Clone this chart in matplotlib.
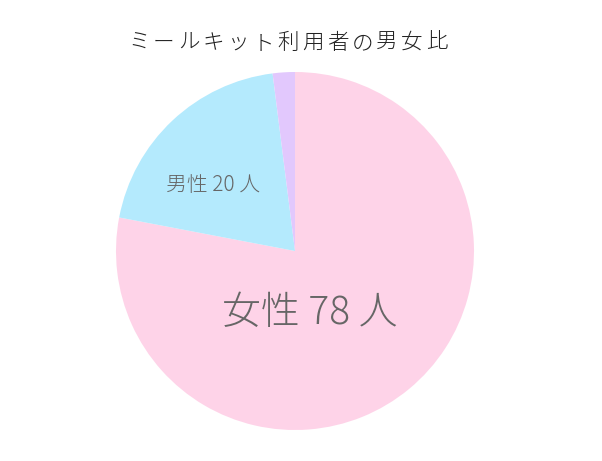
import matplotlib.pyplot as plt

plt.rcParams['font.family'] = ['Noto Sans CJK JP', 'DejaVu Sans']

# data
labels = ['女性 78 人', '男性 20 人', 'その他']
values = [78, 20, 2]
colors = ['#fed3e8', '#b4eafd', '#e2c8fd']
title = 'ミールキット利用者の男女比'

fig = plt.figure(figsize=(6.02, 4.61), dpi=100)
ax = fig.add_axes([116 / 602, 31 / 461, 358 / 602, 358 / 461])

wedges, _ = ax.pie(values, colors=colors, startangle=90, counterclock=False,
                   radius=1.0, wedgeprops={'linewidth': 0})
ax.set_xlim(-1, 1)
ax.set_ylim(-1, 1)
ax.set_aspect('equal')

# slice labels
ax.text(0.085, -0.345, labels[0], ha='center', va='center', fontsize=28,
        color='#666666', fontweight='light')
ax.text(-0.46, 0.37, labels[1], ha='center', va='center', fontsize=15,
        color='#666666', fontweight='light')

# title, with wide letter spacing
step = 24.8
x0 = 139
for i, ch in enumerate(title):
    fig.text((x0 + i * step) / 602, 1 - 43 / 461, ch, ha='center', va='center',
             fontsize=15.5, color='#222222', fontweight='light')

fig.savefig('out.png', dpi=100)
